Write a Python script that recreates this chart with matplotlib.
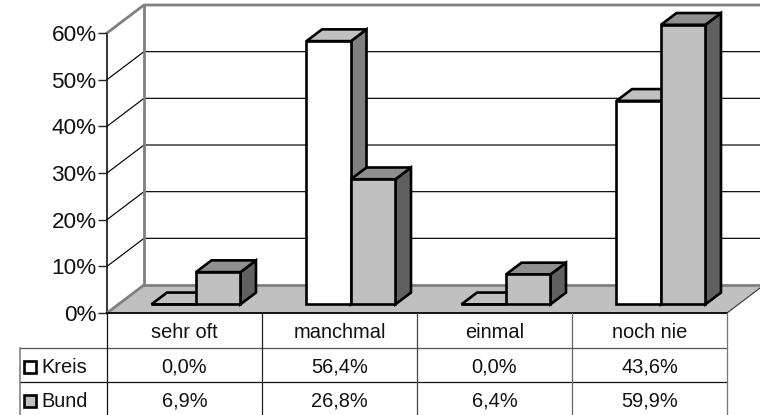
import matplotlib
matplotlib.use('Agg')
import matplotlib.pyplot as plt

plt.rcParams['font.family'] = ['Liberation Sans', 'DejaVu Sans']

# data
categories = ['sehr oft', 'manchmal', 'einmal', 'noch nie']
kreis = [0.0, 56.4, 0.0, 43.6]
bund = [6.9, 26.8, 6.4, 59.9]
kreis_labels = ['0,0%', '56,4%', '0,0%', '43,6%']
bund_labels = ['6,9%', '26,8%', '6,4%', '59,9%']
yticks = [0, 10, 20, 30, 40, 50, 60]

W, H = 760, 415
# depth of the fake 3d box, in data units
DX = 37 / 155
DY = 28 / 4.667
BAR_W = 0.287
FRONT = 0.31
BACK = 0.73
FONT = 14.4

fig = plt.figure(figsize=(W / 100, H / 100), dpi=100)
ax = fig.add_axes([107 / W, (H - 313) / H, 620 / W, 280 / H])
ax.set_xlim(0, 4)
ax.set_ylim(0, 60)
ax.patch.set_visible(False)
for s in ['top', 'right', 'bottom']:
    ax.spines[s].set_visible(False)
ax.spines['left'].set_linewidth(1.2)
ax.spines['left'].set_color('#111111')
ax.spines['left'].set_zorder(1)
ax.set_xticks([])
ax.set_yticks(yticks)
ax.set_yticklabels([str(t) + '%' for t in yticks], fontsize=16.2, color='#111111')
ax.tick_params(axis='y', length=6.5, width=1, pad=1, color='#222222')

# floor
ax.fill([0, 4, 4 + DX, DX], [0, 0, DY, DY], facecolor='#c0c0c0', edgecolor='none', zorder=1, clip_on=False)
ax.plot([DX, 4 + DX], [DY, DY], color='#808080', lw=2, zorder=1.5, clip_on=False)
ax.plot([0, DX], [0, DY], color='#808080', lw=2, zorder=1.5, clip_on=False)
ax.plot([4, 4 + DX], [0, DY], color='#333333', lw=0.8, zorder=1.5, clip_on=False)

# back wall and gridlines
for t in yticks[1:]:
    if t == 60:
        ax.plot([0, DX, 4 + DX], [t, t + DY, t + DY], color='#808080', lw=2, zorder=1.5, clip_on=False)
    else:
        ax.plot([0, DX, 4 + DX], [t, t + DY, t + DY], color='#000000', lw=0.85, zorder=1.5, clip_on=False)
ax.plot([DX, DX], [DY, 60 + DY], color='#808080', lw=2, zorder=1.5, clip_on=False)


def draw_bar(x0, h, front_col, top_col, side_col, z):
    x1 = x0 + BAR_W
    fx0, fx1 = x0 + FRONT * DX, x1 + FRONT * DX
    bx0, bx1 = x0 + BACK * DX, x1 + BACK * DX
    fy, by = FRONT * DY, BACK * DY
    kw = dict(edgecolor='black', lw=1.9, joinstyle='miter', zorder=z, clip_on=False)
    ax.fill([fx1, bx1, bx1, fx1], [fy, by, by + h, fy + h], facecolor=side_col, **kw)
    ax.fill([fx0, bx0, bx1, fx1], [fy + h, by + h, by + h, fy + h], facecolor=top_col, **kw)
    ax.fill([fx0, fx1, fx1, fx0], [fy, fy, fy + h, fy + h], facecolor=front_col, **kw)


for i in range(len(categories)):
    draw_bar(i + 0.5 - BAR_W, kreis[i], 'white', '#c0c0c0', '#808080', 3 + i)
    draw_bar(i + 0.5, bund[i], '#c0c0c0', '#8f8f8f', '#606060', 3 + i + 0.5)

# data table under the chart
ROW1 = -35 / 4.667
ROW2 = -69 / 4.667
BOTTOM = -22.0
LEFT = -87 / 155
ax.plot([0, 4], [0, 0], color='#111111', lw=1.4, zorder=2, clip_on=False)
ax.plot([LEFT, 4], [ROW1, ROW1], color='#555555', lw=0.9, zorder=2, clip_on=False)
ax.plot([LEFT, 4], [ROW2, ROW2], color='#111111', lw=0.9, zorder=2, clip_on=False)
ax.plot([LEFT, LEFT], [ROW1, BOTTOM], color='#777777', lw=1.1, zorder=2, clip_on=False)
for i, c in enumerate(['#111111', '#222222', '#444444', '#666666', '#777777']):
    ax.plot([i, i], [0, BOTTOM], color=c, lw=0.9, zorder=2, clip_on=False)

txt = dict(ha='center', va='center', fontsize=FONT, color='#111111', clip_on=False)
for i in range(len(categories)):
    ax.text(i + 0.5, -19.5 / 4.667, categories[i], **txt)
    ax.text(i + 0.5, -54 / 4.667, kreis_labels[i], **txt)
    ax.text(i + 0.5, -88 / 4.667, bund_labels[i], **txt)

# legend keys inside the table
for y, name, col in [(-54, 'Kreis', 'white'), (-88, 'Bund', '#c0c0c0')]:
    ax.plot([-77 / 155], [y / 4.667], marker='s', ms=8.2, mfc=col, mec='black', mew=1.9, clip_on=False, zorder=3)
    ax.text(-66 / 155, (y - 1) / 4.667, name, ha='left', va='center', fontsize=FONT, color='#111111', clip_on=False)

fig.savefig('out.png', dpi=100)
